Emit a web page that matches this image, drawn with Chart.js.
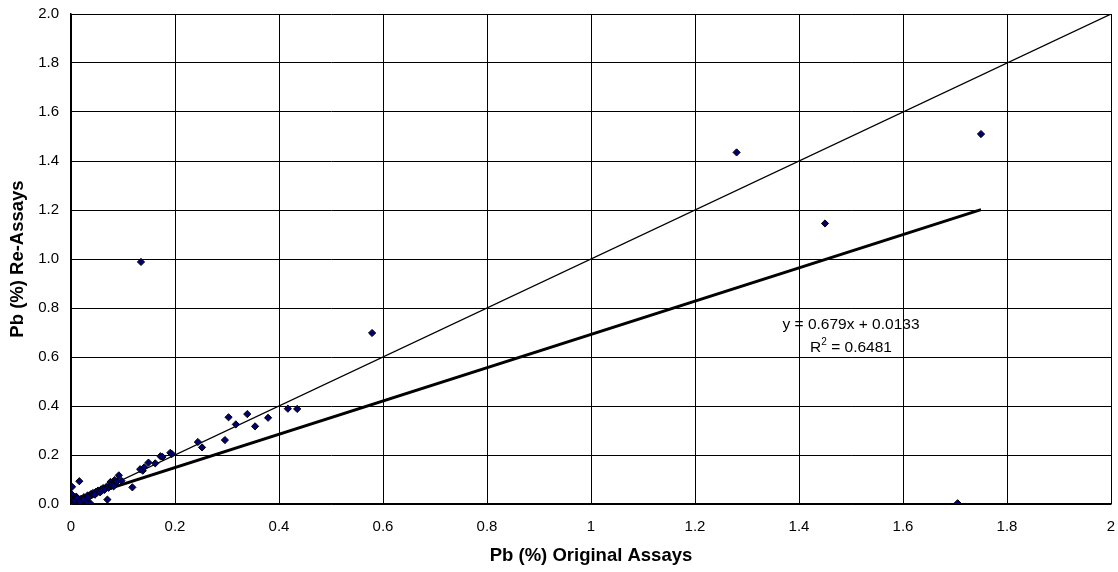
<!DOCTYPE html>
<html>
<head>
<meta charset="utf-8">
<script src="https://cdn.jsdelivr.net/npm/chart.js@4.4.0/dist/chart.umd.min.js"></script>
<style>
  html, body { margin: 0; padding: 0; background: #fff; }
  #wrap { width: 1118px; height: 572px; }
</style>
</head>
<body>
<div id="wrap"><canvas id="scatterChart"></canvas></div>
<script>
// Pb (%) original assay vs re-assay pairs
const pbOriginal = [
    0.1346, 0.579, 1.28, 1.45, 1.75, 1.705,
    0.303, 0.339, 0.317, 0.354, 0.379, 0.296, 0.417, 0.435, 0.252, 0.244,
    0.172, 0.176, 0.191, 0.194, 0.149, 0.162, 0.133, 0.138, 0.141,
    0.016, 0.002, 0.092, 0.084, 0.097, 0.118, 0.070, 0.037, 0.076,
    0.000, 0.002, 0.004, 0.005, 0.006, 0.008, 0.010, 0.012, 0.014, 0.015,
    0.018, 0.020, 0.022, 0.025, 0.028, 0.030, 0.032, 0.035, 0.038, 0.040,
    0.042, 0.045, 0.048, 0.050, 0.052, 0.055, 0.058, 0.060, 0.062, 0.065,
    0.068, 0.072, 0.075, 0.078, 0.080, 0.085, 0.088, 0.003, 0.001, 0.000,
    0.010, 0.015, 0.020, 0.025, 0.030, 0.007, 0.012, 0.017, 0.024, 0.033,
    0.046, 0.056, 0.064, 0.082
];
const pbReassay = [
    0.988, 0.698, 1.435, 1.145, 1.51, 0.003,
    0.354, 0.367, 0.325, 0.317, 0.352, 0.261, 0.389, 0.388, 0.231, 0.253,
    0.195, 0.192, 0.209, 0.204, 0.169, 0.166, 0.142, 0.136, 0.150,
    0.093, 0.070, 0.117, 0.098, 0.095, 0.068, 0.018, 0.003, 0.090,
    0.000, 0.005, 0.002, 0.010, 0.004, 0.012, 0.008, 0.015, 0.006, 0.020,
    0.014, 0.022, 0.010, 0.028, 0.018, 0.025, 0.035, 0.030, 0.040, 0.036,
    0.045, 0.040, 0.050, 0.046, 0.055, 0.050, 0.060, 0.055, 0.065, 0.060,
    0.070, 0.066, 0.078, 0.074, 0.080, 0.085, 0.092, 0.030, 0.040, 0.020,
    0.030, 0.000, 0.005, 0.012, 0.010, 0.016, 0.024, 0.009, 0.020, 0.026,
    0.038, 0.048, 0.058, 0.072
];

// 1:1 reference line and fitted trendline endpoints
const equalX = [0, 2];
const equalY = [0, 2];
const trendX = [0, 1.75];
const trendY = [0.0133, 1.2016];

const equationText = 'y = 0.679x + 0.0133';
const rSquaredText = '0.6481';

const FONT = "'Liberation Sans', Arial, sans-serif";

function toPoints(xs, ys) {
    return xs.map((x, i) => ({ x: x, y: ys[i] }));
}

// draws the trendline equation label inside the plot
const equationLabel = {
    id: 'equationLabel',
    afterDatasetsDraw(chart) {
        const { ctx, scales: { x, y } } = chart;
        const cx = x.getPixelForValue(1.5);
        ctx.save();
        ctx.fillStyle = '#000';
        ctx.font = `15.5px ${FONT}`;
        ctx.textBaseline = 'middle';
        ctx.textAlign = 'center';
        ctx.fillText(equationText, cx, y.getPixelForValue(0.73));

        // R² line with superscript
        const y2 = y.getPixelForValue(0.637);
        const rest = ' = ' + rSquaredText;
        const wR = ctx.measureText('R').width;
        const wRest = ctx.measureText(rest).width;
        ctx.font = `10px ${FONT}`;
        const wSup = ctx.measureText('2').width;
        const left = cx - (wR + wSup + wRest) / 2;
        ctx.textAlign = 'left';
        ctx.font = `15.5px ${FONT}`;
        ctx.fillText('R', left, y2);
        ctx.font = `10px ${FONT}`;
        ctx.fillText('2', left + wR, y2 - 6);
        ctx.font = `15.5px ${FONT}`;
        ctx.fillText(rest, left + wR + wSup, y2);
        ctx.restore();
    }
};

new Chart(document.getElementById('scatterChart').getContext('2d'), {
    type: 'scatter',
    data: {
        datasets: [
            {
                label: 'Pb',
                data: toPoints(pbOriginal, pbReassay),
                pointStyle: 'rectRot',
                pointRadius: 3.6,
                backgroundColor: '#000070',
                borderColor: '#000000',
                borderWidth: 1
            },
            {
                label: 'Trend',
                data: toPoints(trendX, trendY),
                showLine: true,
                borderColor: '#000',
                borderWidth: 3,
                pointRadius: 0
            },
            {
                label: '1:1',
                data: toPoints(equalX, equalY),
                showLine: true,
                borderColor: '#000',
                borderWidth: 1.2,
                pointRadius: 0
            }
        ]
    },
    options: {
        responsive: true,
        maintainAspectRatio: false,
        animation: false,
        layout: { padding: { top: 14, right: 7, left: 0, bottom: 0 } },
        plugins: {
            legend: { display: false },
            tooltip: { enabled: false }
        },
        scales: {
            x: {
                type: 'linear',
                min: 0,
                max: 2,
                afterFit: s => { s.height = 68; s.paddingLeft = 0; s.paddingRight = 0; },
                ticks: {
                    stepSize: 0.2,
                    padding: 14,
                    color: '#000',
                    font: { family: FONT, size: 15 },
                    callback: v => String(+v.toFixed(1))
                },
                grid: { color: '#000', lineWidth: 1, drawTicks: false },
                border: { color: '#000', width: 1.5 },
                title: {
                    display: true,
                    text: 'Pb (%) Original Assays',
                    color: '#000',
                    font: { family: FONT, size: 18.5, weight: 'bold' },
                    padding: { top: 0, bottom: 5 }
                }
            },
            y: {
                type: 'linear',
                min: 0,
                max: 2,
                afterFit: s => { s.width = 71; s.paddingTop = 0; s.paddingBottom = 0; },
                ticks: {
                    stepSize: 0.2,
                    padding: 12,
                    color: '#000',
                    font: { family: FONT, size: 15 },
                    callback: v => v.toFixed(1)
                },
                grid: { color: '#000', lineWidth: 1, drawTicks: false },
                border: { color: '#000', width: 1.5 },
                title: {
                    display: true,
                    text: 'Pb (%) Re-Assays',
                    color: '#000',
                    font: { family: FONT, size: 18.5, weight: 'bold' },
                    padding: { top: 7, bottom: 0 }
                }
            }
        }
    },
    plugins: [equationLabel]
});
</script>
</body>
</html>
